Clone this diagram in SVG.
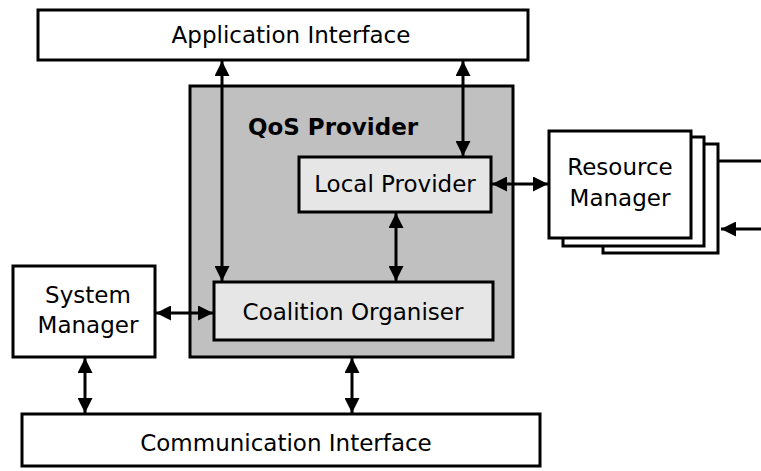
<svg xmlns="http://www.w3.org/2000/svg" width="761" height="471" viewBox="0 0 761 471">
<style>
.b{fill:#fff;stroke:#000;stroke-width:3}
.g{fill:#c0c0c0;stroke:#000;stroke-width:3}
.l{fill:#e6e6e6;stroke:#000;stroke-width:3}
.t{font-family:"DejaVu Sans",sans-serif;font-size:23px;text-anchor:middle;fill:#000}
.c{stroke:#000;stroke-width:3;fill:none}
</style>
<defs>
<marker id="a" viewBox="0 0 10 10" refX="10" refY="5" markerWidth="5" markerHeight="5" orient="auto-start-reverse" markerUnits="strokeWidth">
<path d="M0,0 L10,5 L0,10 z" fill="#000"/>
</marker>
</defs>
<rect width="761" height="471" fill="#fff"/>
<g id="app"><rect class="b" x="38" y="10" width="490" height="50"/><text class="t" x="291" y="43">Application Interface</text></g>
<g id="qos"><rect class="g" x="190" y="86" width="323" height="271"/><text class="t" x="333" y="135" style="font-weight:bold">QoS Provider</text></g>
<g id="local"><rect class="l" x="299" y="157" width="192" height="55"/><text class="t" x="395" y="192">Local Provider</text></g>
<g id="coal"><rect class="l" x="214" y="282" width="279" height="58"/><text class="t" x="353" y="320">Coalition Organiser</text></g>
<g id="sys"><rect class="b" x="13" y="266" width="142" height="91"/><text class="t" x="88" y="303">System</text><text class="t" x="88" y="333">Manager</text></g>
<g id="comm"><rect class="b" x="22" y="414" width="518" height="52"/><text class="t" x="286" y="451">Communication Interface</text></g>
<g id="res">
<rect class="b" x="603" y="144" width="115" height="109"/>
<rect class="b" x="563" y="137" width="141" height="109"/>
<rect class="b" x="549" y="131" width="142" height="107"/>
<text class="t" x="620" y="175">Resource</text><text class="t" x="620" y="206">Manager</text>
</g>
<g id="connectors">
<line class="c" x1="222" y1="61" x2="222" y2="281" marker-start="url(#a)" marker-end="url(#a)"/>
<line class="c" x1="463" y1="61" x2="463" y2="156" marker-start="url(#a)" marker-end="url(#a)"/>
<line class="c" x1="396" y1="213" x2="396" y2="281" marker-start="url(#a)" marker-end="url(#a)"/>
<line class="c" x1="492" y1="184" x2="548" y2="184" marker-start="url(#a)" marker-end="url(#a)"/>
<line class="c" x1="156" y1="313" x2="213" y2="313" marker-start="url(#a)" marker-end="url(#a)"/>
<line class="c" x1="85" y1="358" x2="85" y2="413" marker-start="url(#a)" marker-end="url(#a)"/>
<line class="c" x1="352" y1="358" x2="352" y2="413" marker-start="url(#a)" marker-end="url(#a)"/>
<line class="c" x1="719" y1="161" x2="761" y2="161"/>
<line class="c" x1="761" y1="229" x2="721" y2="229" marker-end="url(#a)"/>
</g>
</svg>
